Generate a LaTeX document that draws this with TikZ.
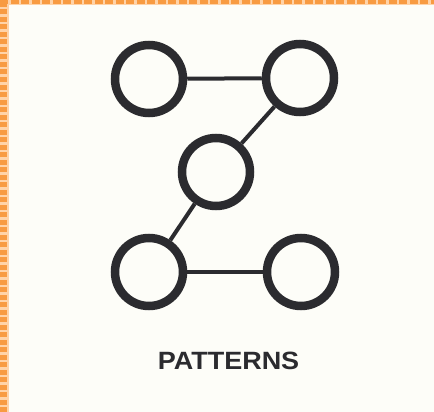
\documentclass[tikz,border=0pt]{standalone}
\usepackage{fontspec}
\setmainfont{Liberation Sans}
\definecolor{bg}{HTML}{FDFDF8}
\definecolor{ink}{HTML}{2B2B2F}
\definecolor{orangeA}{HTML}{F89B42}
\definecolor{orangeB}{HTML}{FFD3A8}
\begin{document}
\begin{tikzpicture}[x=1pt,y=-1pt,
  ring/.style={circle,draw=ink,line width=8.5pt,minimum size=68pt,inner sep=0pt,fill=bg},
  link/.style={draw=ink,line width=4pt},
  label/.style={text=ink,font=\bfseries\fontsize{25}{25}\selectfont,inner sep=0pt,anchor=base}]
\useasboundingbox (0,0) rectangle (434,412);
\fill[bg] (0,0) rectangle (434,412);
% orange border (left and top)
\fill[orangeB] (0,0) rectangle (9,412);
\fill[orangeB] (0,0) rectangle (434,5);
\draw[orangeA,line width=7pt,dash pattern=on 5pt off 2.5pt] (3.5,412) -- (3.5,0);
\draw[orangeA,line width=4pt,dash pattern=on 8pt off 2.5pt] (0,2) -- (434,2);
% nodes
\node[ring] (tl) at (149,79) {};
\node[ring] (tr) at (300,78) {};
\node[ring] (m) at (216,172) {};
\node[ring] (bl) at (149,272) {};
\node[ring] (br) at (301,272) {};
% connectors
\path[link] (tl) -- (tr);
\path[link] (tr) -- (m);
\path[link] (m) -- (bl);
\path[link] (bl) -- (br);
\node[label] (title) at (228.5,369.5) {\scalebox{1.08}[1]{PATTERNS}};
\end{tikzpicture}
\end{document}
